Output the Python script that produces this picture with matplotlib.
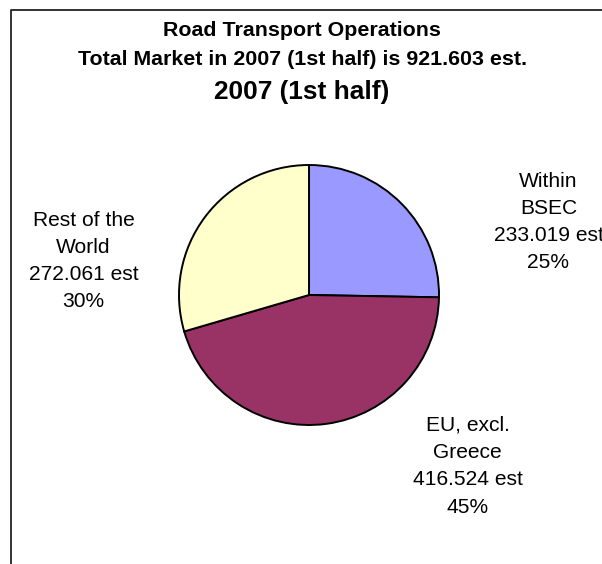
#!/usr/bin/env python3
# -*- coding: utf-8 -*-
"""
Pie chart of road transport operations, 2007 (1st half).
Recreates the Excel-style chart with outside data labels.
"""

import matplotlib
matplotlib.use("Agg")
import matplotlib.pyplot as plt
from matplotlib.lines import Line2D


# ==========================================================
# Data
# ==========================================================

CATEGORIES = ["Within\nBSEC", "EU, excl.\nGreece", "Rest of the\nWorld"]
VALUES = [233.019, 416.524, 272.061]
COLORS = ["#9999FF", "#993366", "#FFFFCC"]

TITLE_LINES = [
    "Road Transport Operations",
    "Total Market in 2007 (1st half) is 921.603 est.",
]
SUBTITLE = "2007 (1st half)"


# ==========================================================
# Layout (pixels, figure is 602 x 564)
# ==========================================================

FIG_W, FIG_H = 602, 564
DPI = 100

PIE_CX, PIE_CY, PIE_R = 309, 295, 130
PAD = 1.03  # axes a bit larger than the pie so the edge line is not clipped

# label anchor: centre x, first-line baseline y, line step
LABEL_POS = [
    (548.5, 187.0, 27.0),
    (467.5, 430.7, 27.3),
    (83.5, 225.7, 27.1),
]

FONT = ["Liberation Sans", "DejaVu Sans"]


def fx(px):
    return px / FIG_W


def fy(py):
    return 1 - py / FIG_H


def main():
    plt.rcParams["font.family"] = FONT

    fig = plt.figure(figsize=(FIG_W / DPI, FIG_H / DPI), dpi=DPI)
    fig.patch.set_facecolor("white")

    # pie axes sized so radius 1 maps to PIE_R pixels
    half = PIE_R * PAD
    ax = fig.add_axes([
        fx(PIE_CX - half),
        fy(PIE_CY + half),
        2 * half / FIG_W,
        2 * half / FIG_H,
    ])

    ax.pie(
        VALUES,
        colors=COLORS,
        startangle=90,
        counterclock=False,
        radius=1,
        wedgeprops={"edgecolor": "black", "linewidth": 1.4},
    )
    ax.set_xlim(-PAD, PAD)
    ax.set_ylim(-PAD, PAD)
    ax.set_aspect("equal")
    ax.axis("off")

    total = sum(VALUES)

    # data labels
    for name, value, (x, y, step) in zip(CATEGORIES, VALUES, LABEL_POS):
        pct = 100 * value / total
        lines = name.split("\n") + [f"{value:.3f} est", f"{pct:.0f}%"]
        for i, line in enumerate(lines):
            fig.text(
                fx(x),
                fy(y + i * step),
                line,
                ha="center",
                va="baseline",
                fontsize=15.1,
                color="black",
            )

    # titles
    for py, line in zip([36, 65], TITLE_LINES):
        fig.text(
            fx(302),
            fy(py),
            line,
            ha="center",
            va="baseline",
            fontsize=15.4,
            fontweight="bold",
        )

    fig.text(
        fx(302),
        fy(99.3),
        SUBTITLE,
        ha="center",
        va="baseline",
        fontsize=18.9,
        fontweight="bold",
    )

    # chart area border (cut off at right and bottom)
    fig.add_artist(Line2D(
        [fx(10.5), fx(10.5), fx(FIG_W + 5)],
        [fy(FIG_H + 5), fy(9.5), fy(9.5)],
        color="#222222",
        linewidth=1.3,
        transform=fig.transFigure,
    ))

    fig.savefig("out.png", dpi=DPI)
    plt.close(fig)


if __name__ == "__main__":
    main()
